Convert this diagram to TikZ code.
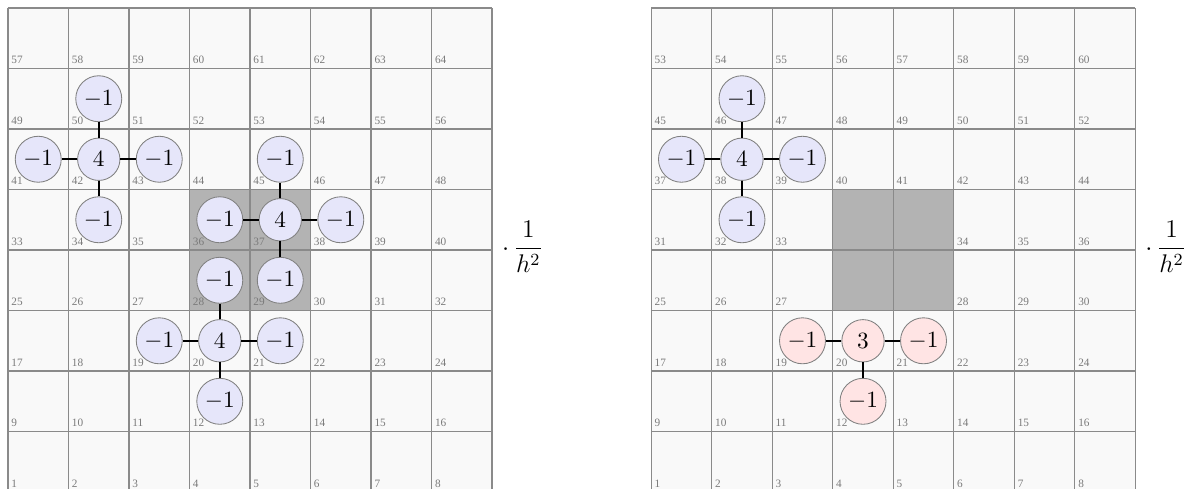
\documentclass[tikz,border=0pt]{standalone}
\usepackage{fontspec}
\setmainfont{Liberation Serif}
\usepackage{amsmath}
\usepackage{tikz}
\usetikzlibrary{positioning}

\definecolor{cellfill}{HTML}{F9F9F9}
\definecolor{gridgray}{HTML}{8A8A8A}
\definecolor{holegray}{HTML}{B3B3B3}
\definecolor{numgray}{HTML}{7A7A7A}
\definecolor{ringgray}{HTML}{808080}
\definecolor{lavender}{HTML}{E6E6FA}
\definecolor{rosefill}{HTML}{FFE4E4}
\newcounter{cellno}

\begin{document}
\begin{tikzpicture}[every node/.style={font=\fontsize{10.95}{13}\selectfont},
  num/.style={anchor=base west, inner sep=0pt, text=numgray, font=\fontsize{5.3}{6}\selectfont},
  entry/.style={circle, draw=ringgray, fill=lavender, inner sep=0pt, minimum size=0.76cm},
  centre/.style={entry, minimum size=0.7cm},
  edgecell/.style={fill=rosefill},
  link/.style={line width=1pt},
  factor/.style={anchor=west, inner sep=0pt, font=\fontsize{12}{15}\selectfont}]
  \useasboundingbox (-0.132,0.066) rectangle (19.6,8.132);

  % Full grid (left): 64 unknowns, shaded block still counted
  \fill[cellfill] (0,0) rectangle (8,8);
  \fill[holegray] (3,3) rectangle (5,5);
  \draw[gridgray, line width=0.55pt] (0,0) grid (8,8);

  \node[centre] (p42) at (1.5,5.5) {$4$};
  \node[entry] (p50) at (1.5,6.5) {$-1$};
  \node[entry] (p41) at (0.5,5.5) {$-1$};
  \node[entry] (p43) at (2.5,5.5) {$-1$};
  \node[entry] (p34) at (1.5,4.5) {$-1$};
  \draw[link] (p42) -- (p50) (p42) -- (p41) (p42) -- (p43) (p42) -- (p34);

  \node[centre] (p37) at (4.5,4.5) {$4$};
  \node[entry] (p45) at (4.5,5.5) {$-1$};
  \node[entry] (p36) at (3.5,4.5) {$-1$};
  \node[entry] (p38) at (5.5,4.5) {$-1$};
  \node[entry] (p29) at (4.5,3.5) {$-1$};
  \node[entry] (p28) at (3.5,3.5) {$-1$};
  \draw[link] (p37) -- (p45) (p37) -- (p36) (p37) -- (p38) (p37) -- (p29);

  \node[centre] (p20) at (3.5,2.5) {$4$};
  \node[entry] (p19) at (2.5,2.5) {$-1$};
  \node[entry] (p21) at (4.5,2.5) {$-1$};
  \node[entry] (p12) at (3.5,1.5) {$-1$};
  \draw[link] (p20) -- (p28) (p20) -- (p19) (p20) -- (p21) (p20) -- (p12);

  \foreach \r in {0,...,7}
    \foreach \c in {0,...,7} {
      \pgfmathtruncatemacro\n{8*\r+\c+1}
      \node[num] (a\n) at (\c+0.05,\r+0.08) {\n};
    }
  \node[factor] (fl) at (8.16,4.05) {$\cdot\,\dfrac{1}{h^2}$};

  % Reduced grid (right): block removed, numbering skips it
  \begin{scope}[xshift=10.63cm]
    \fill[cellfill] (0,0) rectangle (8,8);
    \fill[holegray] (3,3) rectangle (5,5);
    \draw[gridgray, line width=0.55pt] (0,0) grid (8,8);

    \node[centre] (q38) at (1.5,5.5) {$4$};
    \node[entry] (q46) at (1.5,6.5) {$-1$};
    \node[entry] (q37) at (0.5,5.5) {$-1$};
    \node[entry] (q39) at (2.5,5.5) {$-1$};
    \node[entry] (q32) at (1.5,4.5) {$-1$};
    \draw[link] (q38) -- (q46) (q38) -- (q37) (q38) -- (q39) (q38) -- (q32);

    \node[centre, edgecell] (q20) at (3.5,2.5) {$3$};
    \node[entry, edgecell] (q19) at (2.5,2.5) {$-1$};
    \node[entry, edgecell] (q21) at (4.5,2.5) {$-1$};
    \node[entry, edgecell] (q12) at (3.5,1.5) {$-1$};
    \draw[link] (q20) -- (q19) (q20) -- (q21) (q20) -- (q12);

    \setcounter{cellno}{0}
    \foreach \r in {0,...,7}
      \foreach \c in {0,...,7} {
        \pgfmathtruncatemacro\hole{and(or(\r==3,\r==4),or(\c==3,\c==4))}
        \ifnum\hole=0
          \stepcounter{cellno}
          \edef\m{\arabic{cellno}}
          \node[num] (b\m) at (\c+0.05,\r+0.08) {\m};
        \fi
      }
  \end{scope}
  \node[factor] (fr) at (18.79,4.05) {$\cdot\,\dfrac{1}{h^2}$};
\end{tikzpicture}
\end{document}
